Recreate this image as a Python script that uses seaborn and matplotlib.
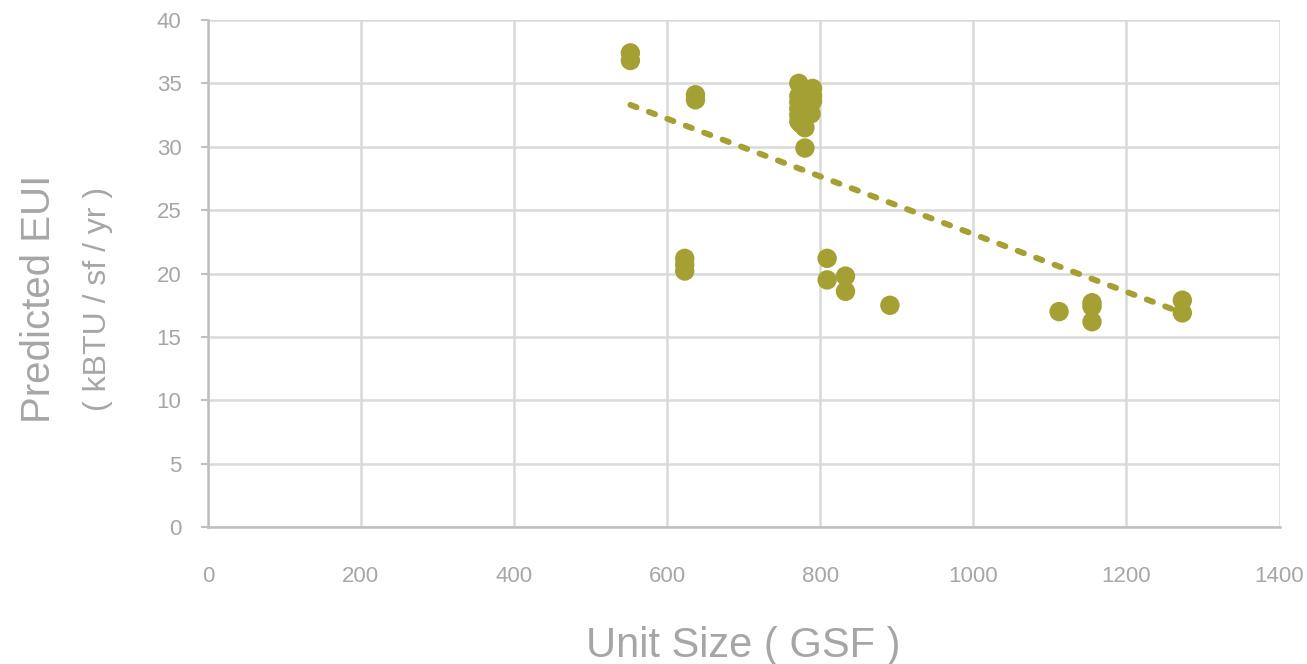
import numpy as np
import pandas as pd
import matplotlib
matplotlib.use("Agg")
import matplotlib.pyplot as plt
import seaborn as sns

# data
unit_size = [552, 552,
             637, 637,
             623, 623, 623,
             772, 772, 772, 772, 772, 772, 775,
             780, 780, 780, 780, 780,
             790, 790, 790, 788, 786,
             809, 809, 833, 833, 891,
             1112, 1155, 1155, 1155, 1273, 1273]
eui = [37.4, 36.8,
       34.1, 33.7,
       21.2, 20.7, 20.2,
       35.0, 34.0, 33.5, 33.0, 32.5, 32.0, 31.8,
       33.8, 33.0, 32.2, 31.5, 29.9,
       34.6, 34.0, 33.6, 32.6, 33.0,
       21.2, 19.5, 19.8, 18.6, 17.5,
       17.0, 17.7, 17.4, 16.2, 17.9, 16.9]

# linear trendline as drawn in the reference (end points)
trend_size = [552, 1273]
trend_eui = [33.3, 16.9]

x_ticks = [0, 200, 400, 600, 800, 1000, 1200, 1400]
y_ticks = [0, 5, 10, 15, 20, 25, 30, 35, 40]

OLIVE = "#A5A033"
TXT = "#A6A6A6"

sns.set_theme(style="white")
plt.rcParams['font.family'] = ['Liberation Sans', 'DejaVu Sans']

df = pd.DataFrame({"size": unit_size, "eui": eui})
trend = pd.DataFrame({"size": trend_size, "eui": trend_eui})

fig = plt.figure(figsize=(13.07, 6.64), dpi=100)
ax = fig.add_axes([0.159, 0.206, 0.820, 0.764])

sns.scatterplot(data=df, x="size", y="eui", ax=ax, color=OLIVE, s=195,
                edgecolor="none", zorder=3, legend=False)
sns.lineplot(data=trend, x="size", y="eui", ax=ax, color=OLIVE, lw=4.3,
             dashes=False, zorder=2)
ln = ax.lines[-1]
ln.set_linestyle((0, (1.1, 2.2)))
ln.set_dash_capstyle("round")

ax.set_xlim(0, 1400)
ax.set_ylim(0, 40)
ax.set_xticks(x_ticks)
ax.set_yticks(y_ticks)
ax.grid(True, color="#D9D9D9", lw=1.8)
ax.set_axisbelow(True)
for s in ["top", "right"]:
    ax.spines[s].set_visible(False)
for s in ["left", "bottom"]:
    ax.spines[s].set_color("#BFBFBF")
    ax.spines[s].set_linewidth(1.8)
ax.tick_params(axis="y", left=True, length=5, width=1.5, color="#BFBFBF",
               pad=14, labelsize=16, labelcolor=TXT)
ax.tick_params(axis="x", bottom=False, pad=22, labelsize=16, labelcolor=TXT)
ax.set_xlabel("Unit Size ( GSF )", fontsize=30, color=TXT, labelpad=28)
ax.set_ylabel("")

fig.text(0.030, 0.55, "Predicted EUI", rotation=90, fontsize=29, color=TXT,
         ha="center", va="center")
fig.text(0.075, 0.55, "( kBTU / sf / yr )", rotation=90, fontsize=23, color=TXT,
         ha="center", va="center")

fig.savefig("out.png", dpi=100)
